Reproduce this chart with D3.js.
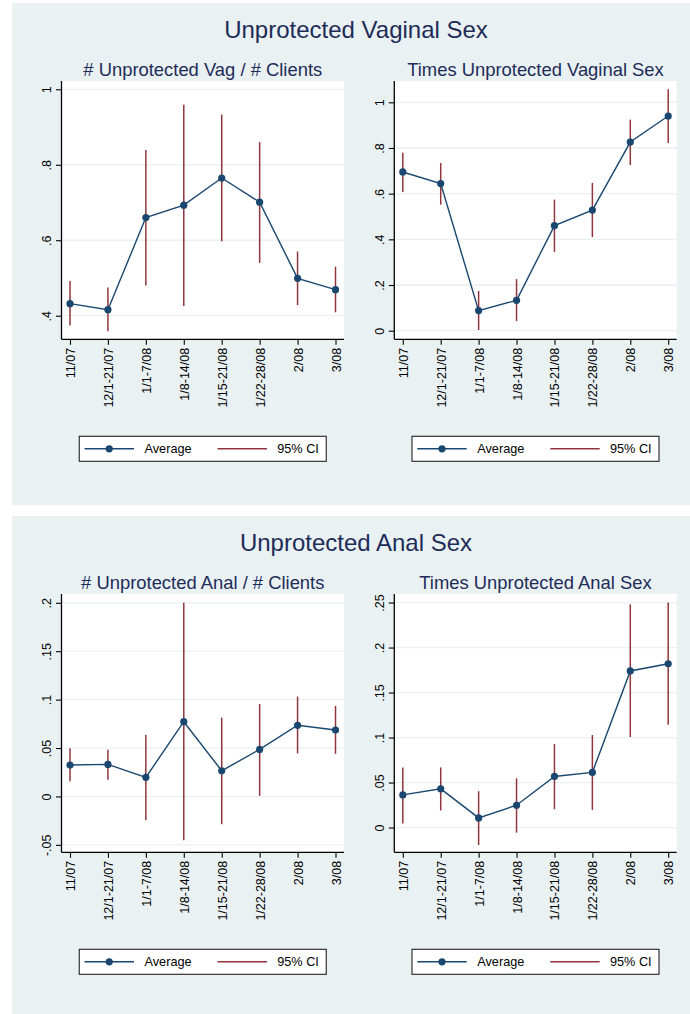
<!DOCTYPE html>
<html>
<head>
<meta charset="utf-8">
<script src="https://cdn.jsdelivr.net/npm/d3@7"></script>
<style>
  html, body { margin: 0; padding: 0; background: #ffffff; }
  svg { display: block; }
  text { font-family: "Liberation Sans", Arial, Helvetica, sans-serif; }
</style>
</head>
<body>
<svg id="chart" width="690" height="1014"></svg>
<script>
// ---- Data -------------------------------------------------------------
const categories = ["11/07", "12/1-21/07", "1/1-7/08", "1/8-14/08",
                    "1/15-21/08", "1/22-28/08", "2/08", "3/08"];

// # Unprotected Vag / # Clients
const vagRatioAvg = [0.432, 0.416, 0.660, 0.693, 0.765, 0.701, 0.499, 0.469];
const vagRatioLo  = [0.374, 0.359, 0.480, 0.426, 0.597, 0.540, 0.428, 0.409];
const vagRatioHi  = [0.492, 0.475, 0.839, 0.959, 0.933, 0.860, 0.570, 0.530];

// Times Unprotected Vaginal Sex
const vagTimesAvg = [0.695, 0.644, 0.088, 0.133, 0.460, 0.528, 0.826, 0.940];
const vagTimesLo  = [0.607, 0.552, 0.003, 0.042, 0.345, 0.410, 0.725, 0.822];
const vagTimesHi  = [0.779, 0.734, 0.174, 0.226, 0.574, 0.647, 0.924, 1.057];

// # Unprotected Anal / # Clients
const analRatioAvg = [0.0324, 0.0331, 0.0197, 0.0772, 0.0265, 0.0486, 0.0735, 0.0686];
const analRatioLo  = [0.0158, 0.0172, -0.0245, -0.0452, -0.0287, 0.0006, 0.0445, 0.0441];
const analRatioHi  = [0.0497, 0.0482, 0.0635, 0.2000, 0.0814, 0.0955, 0.1031, 0.0935];

// Times Unprotected Anal Sex
const analTimesAvg = [0.0363, 0.0430, 0.0107, 0.0248, 0.0568, 0.0612, 0.1740, 0.1820];
const analTimesLo  = [0.0045, 0.0189, -0.0194, -0.0056, 0.0204, 0.0196, 0.1006, 0.1143];
const analTimesHi  = [0.0668, 0.0668, 0.0404, 0.0546, 0.0928, 0.1028, 0.2480, 0.2500];

// Axis ticks
const vagRatioTicks  = [0.4, 0.6, 0.8, 1];
const vagTimesTicks  = [0, 0.2, 0.4, 0.6, 0.8, 1];
const analRatioTicks = [-0.05, 0, 0.05, 0.1, 0.15, 0.2];
const analTimesTicks = [0, 0.05, 0.1, 0.15, 0.2, 0.25];

const groupTitles = ["Unprotected Vaginal Sex", "Unprotected Anal Sex"];
const legendLabels = ["Average", "95% CI"];

// ---- Style ------------------------------------------------------------
const C = {
  region: "#e9f1f3",
  grid: "#e9f1f3",
  title: "#1e2c58",
  line: "#1a476f",
  ci: "#90353b",
  axis: "#000000"
};

const svg = d3.select("#chart");

// Stata-style tick labels: ".8", "-.05", "0", "1"
const stataFmt = v => {
  const s = String(+v.toFixed(4));
  return s.replace(/^(-?)0\./, "$1.");
};

// ---- Layout -----------------------------------------------------------
const groupOffsets = [0, 513];
const panels = [
  { group: 0, title: "# Unprotected Vag / # Clients", avg: vagRatioAvg, lo: vagRatioLo, hi: vagRatioHi,
    ticks: vagRatioTicks, domain: [0.3375, 1.022], left: 61.5, right: 344 },
  { group: 0, title: "Times Unprotected Vaginal Sex", avg: vagTimesAvg, lo: vagTimesLo, hi: vagTimesHi,
    ticks: vagTimesTicks, domain: [-0.0377, 1.0933], left: 394.3, right: 676.7 },
  { group: 1, title: "# Unprotected Anal / # Clients", avg: analRatioAvg, lo: analRatioLo, hi: analRatioHi,
    ticks: analRatioTicks, domain: [-0.0577, 0.2091], left: 61.5, right: 344 },
  { group: 1, title: "Times Unprotected Anal Sex", avg: analTimesAvg, lo: analTimesLo, hi: analTimesHi,
    ticks: analTimesTicks, domain: [-0.0275, 0.2595], left: 394.3, right: 676.7 }
];

// Background regions for the two combined graphs
svg.append("rect").attr("x", 12).attr("y", 3).attr("width", 678).attr("height", 502).attr("fill", C.region);
svg.append("rect").attr("x", 12).attr("y", 516).attr("width", 678).attr("height", 498).attr("fill", C.region);

groupTitles.forEach((t, i) => {
  svg.append("text")
    .attr("x", 356).attr("y", 38.3 + groupOffsets[i])
    .attr("text-anchor", "middle")
    .attr("font-size", 24).attr("fill", C.title)
    .text(t);
});

panels.forEach(p => {
  const off = groupOffsets[p.group];
  const top = 81 + off, bottom = 339.3 + off;
  const g = svg.append("g");

  const x = d3.scalePoint().domain(categories).range([p.left, p.right]).padding(0.224);
  const y = d3.scaleLinear().domain(p.domain).range([bottom, top]);
  const cx = (p.left + p.right) / 2;

  // subtitle
  g.append("text")
    .attr("x", cx).attr("y", 76 + off)
    .attr("text-anchor", "middle")
    .attr("font-size", 18.4).attr("fill", C.title)
    .text(p.title);

  // plot region
  g.append("rect")
    .attr("x", p.left).attr("y", top)
    .attr("width", p.right - p.left).attr("height", bottom - top)
    .attr("fill", "#ffffff");

  // grid lines
  g.selectAll(".grid").data(p.ticks).join("line")
    .attr("x1", p.left).attr("x2", p.right)
    .attr("y1", d => y(d)).attr("y2", d => y(d))
    .attr("stroke", C.grid).attr("stroke-width", 1.3);

  // y axis
  const yAxis = d3.axisLeft(y).tickValues(p.ticks).tickSize(5.5).tickFormat(stataFmt);
  const ya = g.append("g").attr("transform", `translate(${p.left},0)`).call(yAxis);
  ya.select(".domain").attr("stroke", C.axis).attr("stroke-width", 1.3)
    .attr("d", `M0,${top}V${bottom}`);
  ya.selectAll(".tick line").attr("stroke", C.axis).attr("stroke-width", 1.1);
  ya.selectAll(".tick text")
    .attr("x", null).attr("dy", null)
    .attr("transform", "translate(-10.5,0) rotate(-90)")
    .attr("text-anchor", "middle")
    .attr("font-size", 12.5).attr("fill", "#000")
    .attr("font-family", "'Liberation Sans', Arial, sans-serif");

  // x axis
  const xAxis = d3.axisBottom(x).tickSize(5.5);
  const xa = g.append("g").attr("transform", `translate(0,${bottom})`).call(xAxis);
  xa.select(".domain").attr("stroke", C.axis).attr("stroke-width", 1.3)
    .attr("d", `M${p.left},0H${p.right}`);
  xa.selectAll(".tick line").attr("stroke", C.axis).attr("stroke-width", 1.1);
  xa.selectAll(".tick text")
    .attr("y", null).attr("dy", null)
    .attr("transform", "translate(0,8.5) rotate(-90)")
    .attr("dy", "0.36em")
    .attr("text-anchor", "end")
    .attr("font-size", 12.5).attr("fill", "#000")
    .attr("font-family", "'Liberation Sans', Arial, sans-serif");

  // confidence intervals
  g.selectAll(".ci").data(categories).join("line")
    .attr("x1", d => x(d)).attr("x2", d => x(d))
    .attr("y1", (d, i) => y(p.lo[i])).attr("y2", (d, i) => y(p.hi[i]))
    .attr("stroke", C.ci).attr("stroke-width", 1.5);

  // average line + markers
  const line = d3.line().x((d, i) => x(categories[i])).y(d => y(d));
  g.append("path").datum(p.avg)
    .attr("d", line).attr("fill", "none")
    .attr("stroke", C.line).attr("stroke-width", 1.4);
  g.selectAll(".pt").data(p.avg).join("circle")
    .attr("cx", (d, i) => x(categories[i])).attr("cy", d => y(d))
    .attr("r", 3.6).attr("fill", C.line);

  // legend
  const lx = cx - 123.5, ly = 436.3 + off, lw = 247, lh = 25;
  const lg = g.append("g");
  lg.append("rect").attr("x", lx).attr("y", ly).attr("width", lw).attr("height", lh)
    .attr("fill", "#ffffff").attr("stroke", "#222").attr("stroke-width", 1.1);
  const my = ly + lh / 2;
  lg.append("line").attr("x1", lx + 5.3).attr("x2", lx + 54.7).attr("y1", my).attr("y2", my)
    .attr("stroke", C.line).attr("stroke-width", 1.4);
  lg.append("circle").attr("cx", lx + 30).attr("cy", my).attr("r", 3.6).attr("fill", C.line);
  lg.append("text").attr("x", lx + 65.3).attr("y", my).attr("dy", "0.36em")
    .attr("font-size", 12.7).attr("fill", "#000").text(legendLabels[0]);
  lg.append("line").attr("x1", lx + 138.3).attr("x2", lx + 187.7).attr("y1", my).attr("y2", my)
    .attr("stroke", C.ci).attr("stroke-width", 1.5);
  lg.append("text").attr("x", lx + 198).attr("y", my).attr("dy", "0.36em")
    .attr("font-size", 12.7).attr("fill", "#000").text(legendLabels[1]);
});
</script>
</body>
</html>
